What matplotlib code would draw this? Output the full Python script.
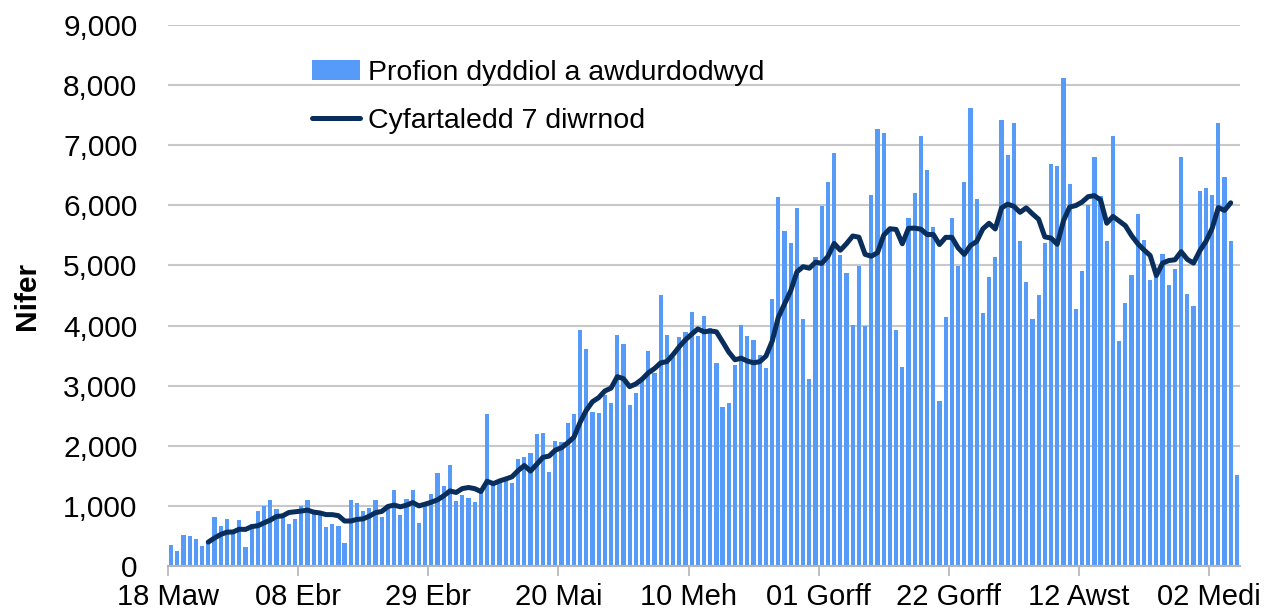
import numpy as np
import pandas as pd
import matplotlib
matplotlib.use('Agg')
import matplotlib.pyplot as plt

plt.rcParams['font.family'] = ['Liberation Sans', 'DejaVu Sans']

# Profion dyddiol (18 Maw -> 06 Medi), wedi'u darllen o'r siart
profion = [344, 250, 522, 500, 450, 339, 380, 817, 661, 789,
           528, 767, 317, 706, 922, 994, 1106, 950, 844, 706,
           789, 1006, 1106, 872, 856, 650, 700, 672, 383, 1106,
           1056, 922, 967, 1106, 811, 967, 1261, 856, 1122, 1261,
           722, 1011, 1195, 1539, 1333, 1678, 1083, 1178, 1133, 1061,
           1206, 2528, 1400, 1394, 1411, 1383, 1783, 1806, 1872, 2189,
           2206, 1556, 2078, 2067, 2372, 2522, 3922, 3606, 2567, 2550,
           2844, 2706, 3850, 3694, 2678, 2883, 3094, 3583, 3206, 4511,
           3850, 3483, 3806, 3900, 4233, 3828, 4167, 3956, 3383, 2639,
           2706, 3339, 4011, 3828, 3761, 3511, 3289, 4439, 6133, 5567,
           5367, 5956, 4106, 3111, 5139, 5994, 6383, 6872, 5167, 4872,
           4006, 4994, 3994, 6172, 7278, 7211, 5622, 3928, 3317, 5794,
           6200, 7150, 6589, 5639, 2750, 4150, 5794, 4983, 6383, 7622,
           6111, 4217, 4800, 5139, 7417, 6833, 7372, 5411, 4733, 4106,
           4506, 5367, 6694, 6650, 8120, 6356, 4283, 4911, 6000, 6806,
           6150, 5411, 7150, 3744, 4372, 4844, 5861, 5428, 4761, 4817,
           5189, 4667, 4939, 6806, 4528, 4328, 6244, 6289, 6178, 7372,
           6472, 5411, 1511]

labeli_x = ['18 Maw', '08 Ebr', '29 Ebr', '20 Mai', '10 Meh',
            '01 Gorff', '22 Gorff', '12 Awst', '02 Medi']

s = pd.Series(profion, dtype=float)
# cyfartaledd 7 diwrnod (y diwrnod olaf heb ei gynnwys)
cyf = s.iloc[:-1].rolling(7).mean()

x = np.arange(len(profion))

fig = plt.figure(figsize=(12.67, 6.15), dpi=100)
ax = fig.add_axes([0.1326, 0.0797, 0.8461, 0.8796])

bars = ax.bar(x, s, width=0.68, color='#559BF7', label='Profion dyddiol a awdurdodwyd', zorder=2)
llinell, = ax.plot(x[:-1], cyf, color='#0A2E5C', lw=3.6, label='Cyfartaledd 7 diwrnod', zorder=3,
                   solid_capstyle='round', solid_joinstyle='round')

ax.set_xlim(-0.5, len(profion) - 0.5)
ax.set_ylim(0, 9000)
ax.set_yticks(np.arange(0, 9001, 1000))
ax.set_yticklabels(['{:,}'.format(v) for v in range(0, 9001, 1000)])
ax.set_xticks(np.arange(len(labeli_x)) * 21 - 0.5)
ax.set_xticklabels(labeli_x)

ax.grid(axis='y', color='#c8c8c8', lw=1.5, zorder=0)
ax.set_axisbelow(True)
for sp in ['top', 'right', 'left']:
    ax.spines[sp].set_visible(False)
ax.spines['bottom'].set_color('#b4b4b4')
ax.spines['bottom'].set_linewidth(1.5)

ax.tick_params(axis='y', length=0, pad=22, labelsize=21.5)
ax.tick_params(axis='x', length=7, width=1.2, color='#b4b4b4', pad=5, labelsize=21)

ax.set_ylabel('Nifer', fontsize=21.5, fontweight='bold', labelpad=16)

ax.legend(handles=[bars, llinell], loc='upper left', bbox_to_anchor=(312 / 1267, 1 - 60 / 615),
          bbox_transform=fig.transFigure, frameon=False, fontsize=20.5,
          handlelength=1.7, handletextpad=0.25, labelspacing=0.78,
          borderpad=0, borderaxespad=0)

fig.savefig('out.png', dpi=100)
